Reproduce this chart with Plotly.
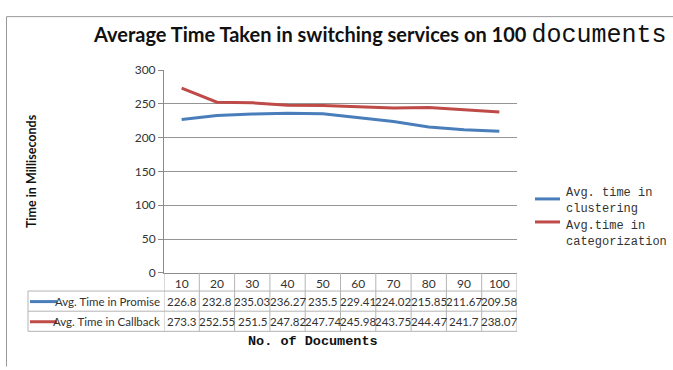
import plotly.graph_objects as go

# ---- data ----
categories = ["10", "20", "30", "40", "50", "60", "70", "80", "90", "100"]
promise = [226.8, 232.8, 235.03, 236.27, 235.5, 229.41, 224.02, 215.85, 211.67, 209.58]
callback = [273.3, 252.55, 251.5, 247.82, 247.74, 245.98, 243.75, 244.47, 241.7, 238.07]
row_names = ["Avg. Time in Promise", "Avg. Time in Callback"]
legend_names = ["Avg. time in<br>clustering", "Avg.time in<br>categorization"]
y_ticks = [0, 50, 100, 150, 200, 250, 300]
title_main = "Average Time Taken in switching services on 100"
title_tail = "documents"
y_title = "Time in Milliseconds"
x_title = "No. of Documents"

W, H = 673, 370
BLUE = "#4A7EBB"
RED = "#BE4B48"
AXIS = "#8C8C8C"
GRIDC = "#959595"
TABLE = "#B4B4B4"
TXT = "#333333"


def px(p):
    return p / W


def py(p):
    return 1 - p / H


X0, X1 = 164, 517
Y_TOP, Y_BOT = 64.7, 276

fig = go.Figure()
fig.add_trace(go.Scatter(x=categories, y=promise, mode="lines",
                         line=dict(color=BLUE, width=3), name=row_names[0]))
fig.add_trace(go.Scatter(x=categories, y=callback, mode="lines",
                         line=dict(color=RED, width=3), name=row_names[1]))

shapes = []
annotations = []

# outer chart border
shapes.append(dict(type="line", xref="paper", yref="paper", x0=px(6.5), x1=px(6.5),
                   y0=py(9), y1=-0.01, line=dict(color="#999999", width=1)))
shapes.append(dict(type="line", xref="paper", yref="paper", x0=px(6.5), x1=1.01,
                   y0=py(9), y1=py(9), line=dict(color="#999999", width=1)))

# data table grid
ROW_TOP, ROW_MID, ROW_BOT = 295, 316, 337
for i in range(len(categories) + 1):
    shapes.append(dict(type="line", xref="x", yref="paper", x0=i - 0.5, x1=i - 0.5,
                       y0=py(Y_BOT), y1=py(ROW_BOT), line=dict(color=TABLE, width=1)))
shapes.append(dict(type="line", xref="paper", yref="paper", x0=px(28), x1=px(28),
                   y0=py(ROW_TOP), y1=py(ROW_BOT), line=dict(color=TABLE, width=1)))
for yy in (ROW_TOP, ROW_MID, ROW_BOT):
    shapes.append(dict(type="line", xref="paper", yref="paper", x0=px(28), x1=px(X1),
                       y0=py(yy), y1=py(yy), line=dict(color=TABLE, width=1)))

# table rows
for r, (vals, name, col) in enumerate([(promise, row_names[0], BLUE), (callback, row_names[1], RED)]):
    yc = 306 + r * 21
    shapes.append(dict(type="line", xref="paper", yref="paper", x0=px(30), x1=px(57),
                       y0=py(yc), y1=py(yc), line=dict(color=col, width=3)))
    annotations.append(dict(xref="paper", yref="paper", x=px(162), y=py(yc), text=name,
                            xanchor="right", yanchor="middle", showarrow=False,
                            font=dict(family="Lato", size=11.5, color=TXT)))
    for i, v in enumerate(vals):
        annotations.append(dict(xref="x", yref="paper", x=i, y=py(yc), text=f"{v:g}",
                                xanchor="center", yanchor="middle", showarrow=False,
                                font=dict(family="Lato", size=11.5, color=TXT)))

# legend (manual)
for k, (name, col, yl, yt) in enumerate([(legend_names[0], BLUE, 199, 201),
                                          (legend_names[1], RED, 223, 236)]):
    shapes.append(dict(type="line", xref="paper", yref="paper", x0=px(535), x1=px(560),
                       y0=py(yl), y1=py(yl), line=dict(color=col, width=3)))
    annotations.append(dict(xref="paper", yref="paper", x=px(564), y=py(yt), text=name,
                            xanchor="left", yanchor="middle", align="left", showarrow=False,
                            font=dict(family="Liberation Mono", size=12, color=TXT)))

# title
annotations.append(dict(xref="paper", yref="paper", x=px(380), y=py(29),
                        text=f"<b>{title_main}</b> <span style='font-family:Liberation Mono;font-size:25px'>{title_tail}</span>",
                        xanchor="center", yanchor="middle", showarrow=False,
                        font=dict(family="Lato", size=20, color="#111111")))
# axis titles
annotations.append(dict(xref="paper", yref="paper", x=px(31), y=py(170), text=f"<b>{y_title}</b>",
                        textangle=-90, xanchor="center", yanchor="middle", showarrow=False,
                        font=dict(family="Lato", size=12.5, color="#111111")))
annotations.append(dict(xref="paper", yref="paper", x=px(313), y=py(348), text=f"<b>{x_title}</b>",
                        xanchor="center", yanchor="middle", showarrow=False,
                        font=dict(family="Liberation Mono", size=13.5, color="#111111")))

fig.update_layout(
    width=W, height=H,
    margin=dict(l=0, r=0, t=0, b=0),
    paper_bgcolor="white", plot_bgcolor="white",
    showlegend=False,
    shapes=shapes, annotations=annotations,
    xaxis=dict(domain=[px(X0), px(X1)], type="category", range=[-0.5, len(categories) - 0.5],
               showgrid=False, zeroline=False, showline=True, linecolor=AXIS, linewidth=1,
               ticks="", tickfont=dict(family="Lato", size=12, color=TXT), fixedrange=True),
    yaxis=dict(domain=[py(Y_BOT), py(Y_TOP)], range=[0, 300], tickvals=y_ticks,
               showgrid=True, gridcolor=GRIDC, gridwidth=1, zeroline=False,
               showline=True, linecolor=AXIS, linewidth=1,
               ticks="outside", ticklen=5, tickcolor=AXIS,
               tickfont=dict(family="Lato", size=12, color=TXT), fixedrange=True),
)

fig.write_html("out.html")
